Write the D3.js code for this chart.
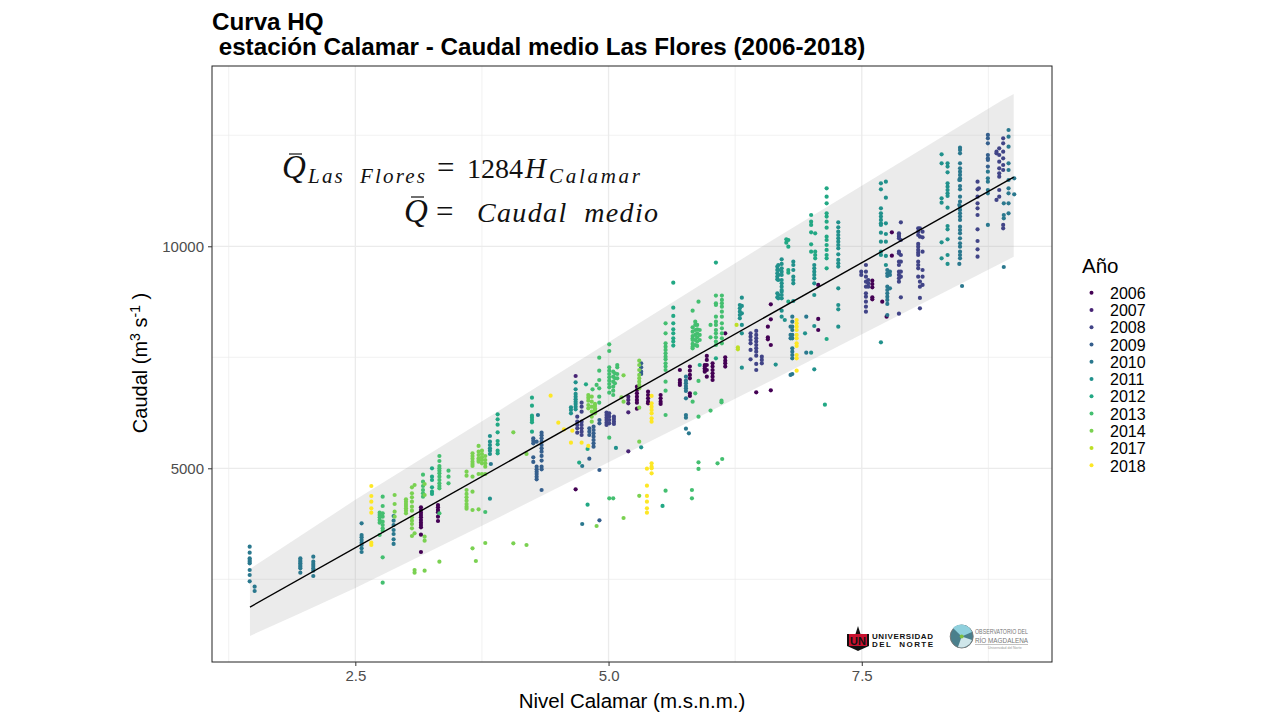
<!DOCTYPE html>
<html><head><meta charset="utf-8">
<script src="https://cdn.jsdelivr.net/npm/d3@7"></script>
<style>
html,body{margin:0;padding:0;background:#fff}
svg{display:block}
text{font-family:"Liberation Sans",Arial,sans-serif}
.math{font-family:"Liberation Serif","DejaVu Serif",serif;fill:#111}
</style></head><body>
<svg id="c" width="1280" height="720"></svg>
<script>
const years = ["2006","2007","2008","2009","2010","2011","2012","2013","2014","2017","2018"];
const xBreaksMajor = [2.5,5,7.5];
const xBreaksMinor = [1.25,3.75,6.25,8.75];
const yBreaksMajor = [5000,10000];
const yBreaksMinor = [2500,7500,12500];
const fitH = [1.46,9.0];
const fitQ = [1875,11556];
const bandUpper = [[1.46,2733],[2.5,4290],[3.93,6313],[6.46,9917],[8.89,13294],[9.0,13428]];
const bandLower = [[1.46,1225],[1.94,1720],[2.5,2305],[3.93,3911],[6.5,6854],[9.0,9766]];

const obs2006 = [
[3.148,[4121,4061,4001,3949,3896,3836,3776,3723,3671,3506,3115]],
[3.316,[4174,4121,4061,4009,3911,3813]],
[4.675,[4527]],
[5.28,[6839,6764,6689,6614,6539,6479,6344]],
[5.39,[6726,6651,6576,6501,6464]],
[5.514,[6651,6576,6501,6449]],
[5.704,[7214,6989,6929,6877]],
[5.803,[7290,7199,7102,7027,6689,6629]],
[5.95,[7327,7252,7177,7290,7214]],
[5.97,[7530,7440,7327,7214,7064]],
[6.027,[7365,7290,7214,7139,7064,6989]],
[6.152,[8040,7500,7425,7365,7290]],
[6.458,[6711]],
[6.573,[8190,7950,7905]],
[6.602,[8693,8355,7777,6757]],
[7.07,[9129,8363,8115]],
[7.604,[9226,9151,9076,8851,8806]],
[7.702,[8753]],
[7.797,[10315,9789]],
[7.745,[8415]]
];
const obs2007 = [
[4.675,[7079]],
[5.195,[6614,6539,6464,6261,5383]]
];
const obs2008 = [
[4.691,[6163,6051,5976,5901,5803]],
[4.734,[6479,6389,6276,6051,5976,5901,5826,5750]],
[4.98,[6254,6201,6141,6088,6028,5976]],
[5.007,[6239,6163,6088,6013]],
[5.053,[6163,6111,6051,5998]],
[6.402,[8040,7965,7890,7815,7665,7455]],
[6.458,[8093,8003,7928,7853,7777,7702,7627,7537,7350,7214]],
[6.513,[7515,7440,7365]],
[7.495,[9429,9354]],
[7.541,[9579,9429,9316,9204,9091,8941,8866,8753,8641,8528]],
[7.564,[9241,9166,9091]],
[7.867,[10292,10254,10217,10179,9879,9842,9654,9579,9429,9354,9279,9204,8483]],
[7.886,[10540,10142,9804,9654,9429,9316,8851]],
[8.057,[10405,10330,10254,10052,9992,9917,9857,9804,9654,9579,9504,9316]],
[8.074,[10405,10217,9204,9091,8836,8603]],
[8.1,[10330,10202,9879,9466,9316,9129]],
[8.643,[11456,11283,11118,10968,10855,10705,10382,10119,9932,9767]],
[8.656,[11306]],
[8.83,[12131,12094,11043]],
[8.857,[12206,12056,11906,11756,11643,11568,11268,11118]],
[8.896,[12432,12319,12131,11981,11831,11718,10480,10405]]
];
const obs2009 = [
[4.257,[5675,5623,5563,5248,5143]],
[4.29,[5037,4977,4925,4872,4812,4752,5600]],
[4.339,[5803,5743,5675,5600,5525,5450,5375,5278,5173,5037,4977,4512]],
[4.81,[5218,5901,5826,5750]],
[4.852,[5938,5863,5788,5713,5638,5563,5488]],
[4.91,[6088,6013,4962,3829]],
[5.322,[7365,7275,7177,7124]],
[8.745,[12507,12432,12319,12056,11981,11944,11794]]
];
const obs2010 = [
[1.457,[3235,3100,2973,2935,2898,2860,2710,2597,2455]],
[1.506,[2335,2237]],
[1.957,[2973,2935,2898,2860,2823,2785,2747,2650]],
[2.085,[3010,2898,2845,2800,2747,2695,2575]],
[2.562,[3761,3498,3446,3386,3326,3273,3198,3115]],
[2.878,[3926,3821,3723,3611,3521,3401,3296]],
[3.838,[5097]],
[4.303,[6201]],
[4.74,[5052,3746]],
[5.764,[7064,6974,6914,6854,6802,6742,6576,6201,6141,5893]],
[5.793,[5788]],
[6.814,[8415,8303,8190,8115,8003,7928,7702,7627,7552,7477,7124]],
[6.797,[8190,8003,7928,7102]],
[6.952,[8415,7605]],
[7.752,[9466,9391,9331,9091,9016,8941,8866,8791,8701,8453]],
[7.778,[9429,9354,9054]],
[8.47,[12221,12169,12094,11869,11756,11681,11606,11531,11493,11358,11283,11118,11005,10893,10818,10743,10668,10593,10442,10367,10292,10179,10067,9992,9879,9804,9729]],
[8.463,[11493,10930,9602]],
[8.49,[9106]],
[8.745,[11681,11531,11456,11268,11193,10480]],
[8.902,[10968,10705,10630,9534]],
[8.949,[12619,12469,12244,11869,11718,11493,11306,11193,10968,10743]],
[9.005,[11531,11170]]
];
const obs2011 = [
[3.829,[5728,5600,5525,5450,5397,5322,4316]],
[4.629,[6374,6314,6238]],
[4.675,[6937,6779,6674,6614,6554,6501,6449,6389,6329]],
[5.073,[5458]],
[5.322,[5473]],
[6.65,[7335]],
[6.666,[9542,9467,9392,9317,9256,8941,8851]],
[6.676,[9579,9466,9354,9241,8903,8828]],
[6.709,[9707,9602,9504,9429,9354,9241,9166,9091,9016,8978,8903,8828,8551,8415]],
[6.74,[8340]],
[6.824,[9654,9579,9466,9316,9241,9166,8768]],
[6.296,[8678,8603,8528,8453,8378]],
[6.316,[8843,8656,8491,8228,8040,7267]],
[7.031,[9579,9504,9429,9354,9279,9166,8903,8205,7229]],
[6.94,[8040]],
[7.0,[7605]],
[7.268,[10540,10427,10330,10254,10179,10104,10029,9954,9819,9692,9617,9542,9054,8678,8581,8190]],
[7.689,[11418,11283,10855,10743,10668,10593,10518,10480,10307,10104,9879,9804,7837]],
[7.738,[11456,11095,10518,10277,10104,9782,9579]],
[8.288,[12071,11869,11080,10983,10089,9729]],
[8.347,[11869,11794,11666,11418,11343,11268,11193,11133,10870,10457,10382,10157,9804,9602]]
];
const obs2012 = [
[3.905,[6216,6103,5983,5810,5615,5540,5397,5337]],
[3.257,[5000,4812,4737,4572,4474,4422]],
[4.244,[6591,6411,6186,6141,6088,6036,5826]],
[4.71,[5128]],
[4.777,[6892]],
[4.793,[5435,4182]],
[5.533,[4152]],
[5.639,[8618,8431,8265,8130,8040,7928,7853,7763,9181]],
[5.9,[7327]],
[6.06,[9632,7477]],
[6.755,[10157,10082]],
[6.775,[10142,9992,9466,9406,8753]],
[7.0,[10705,10555,10480,10315,10044,9879]],
[7.04,[10292,9879,9804,9729]],
[7.136,[6434]],
[7.153,[11306,11118,10968,10743,10668,10555,10420,10217,10142,10029,9917,9804,9729,9504,7912]]
];
const obs2013 = [
[2.74,[4001,3949,3896,3836,3776,3498]],
[2.77,[3986,3911,3799,3723,3648,3596,4362,4151,2995,2425]],
[3.168,[4857,4699,4602,4512,4437,4362]],
[3.33,[5277,5165,5052,5000,4947,4887,4812,4737,4662,4602,4549,3986]],
[3.42,[4947,4812,4662]],
[3.783,[4016]],
[4.882,[6877]],
[4.908,[6614,6479,6802,6989,7199,7492]],
[4.842,[6779]],
[5.007,[7792,7642,7275,7199,7124,7049,6974,6899,6824,6704,5690,4324]],
[5.046,[7177,7064,6952,6839,6749,6651,4324]],
[5.063,[7139,7027,6914]],
[5.086,[7327,7275,7124,7027]],
[5.563,[8265,8040,7815,7740,7665,7590,7515,7455,7365,7290,7214,6952,6749,6201,4497]],
[5.83,[8551,7740,7928,6501,8175,8078,7980,7890,7800,7702]],
[5.856,[6689,8303,8228,8115,8003,7890,7777]],
[5.875,[8228,8130,8040,7950,7853,7755]],
[5.888,[8753,6967,6163,5135,4985]],
[5.9,[8115,8003,7890]],
[5.823,[4512,4324]],
[6.007,[8228,7950,6299]],
[6.06,[8889,8716,8678,8415,8303,8228,8115,8040,7950,7853,7777]],
[6.076,[5112]],
[6.115,[6524,6486]],
[6.119,[8889,8791,8716,8641,8528,8415,8265,8153,8040,7928,7815]],
[6.122,[5210]]
];
const obs2014 = [
[2.888,[4399,4196,4024,3911]],
[3.0,[4301,4249,4196,4151,4099,4046,3986]],
[3.059,[4572,4437,4346,4249,4136,4046,3896,3821,3746,3648,3476]],
[3.085,[4624,3536,2710,2650]],
[3.184,[4647,4399,3461,3371,2695]],
[3.33,[2898]],
[3.598,[4925,4835,4512,4422,4346,4271,4196,4136,4091]],
[3.657,[5337,5277,5217,5150,5097,5052,4812,4474,4061,3198]],
[3.69,[2913]],
[3.717,[5503,5375,5300,5225,5187,5150,4872,4076]],
[3.75,[5397,5322,5247,5187,5112,4872]],
[3.783,[5277,5187,5112,5037,4872,3318]],
[4.06,[5811,3311]],
[4.19,[5323,3273]],
[4.8,[6651,6591,6524,6426,6351]],
[4.834,[6614,6501,6389,6276,6163,6051]],
[4.866,[6449,6404,6351,6314,6239]],
[5.148,[7094,6501,3881]],
[5.128,[6599]],
[4.882,[3701]],
[5.303,[7425,7327,7214,7102,7027,6952,6877,6802,6366,5600,4380]]
];
const obs2017 = [
[6.264,[8228]],
[6.277,[7725,7680]]
];
const obs2018 = [
[2.658,[4602,4376,4249,4099,4001,3326,3273]],
[4.428,[6636]],
[4.504,[6028]],
[4.56,[5878]],
[4.642,[5848]],
[4.629,[5578]],
[4.734,[5578]],
[4.80,[5503]],
[5.425,[6629,6464,6389,6314,6239,6126,6051,5112,5037,5000,4887]],
[5.379,[4992,4609,4377,4249,4099,4001]],
[6.857,[8340,8265,8190,8115,8003,7928,7815,7755,7552,7477,7199]]
];
const obsByYear = [obs2006,obs2007,obs2008,obs2009,obs2010,obs2011,obs2012,obs2013,obs2014,obs2017,obs2018];

const titleLines = ["Curva HQ"," estación Calamar - Caudal medio Las Flores (2006-2018)"];
const logoA = ["UNIVERSIDAD","DEL  NORTE"];
const logoB = ["OBSERVATORIO DEL","RÍO MAGDALENA","Universidad del Norte"];

const svg = d3.select("#c");
const P = {l:212,r:1052,t:66,b:662};
const x = d3.scaleLinear().domain([1.085,9.378]).range([P.l,P.r]);
const y = d3.scaleLinear().domain([638,14060]).range([P.b,P.t]);
const color = d3.scaleOrdinal(years, d3.quantize(d3.interpolateViridis, years.length));

const grid = svg.append("g");
const vline=(v,w)=>grid.append("line").attr("x1",x(v)).attr("x2",x(v)).attr("y1",P.t).attr("y2",P.b).attr("stroke","#ebebeb").attr("stroke-width",w);
const hline=(v,w)=>grid.append("line").attr("y1",y(v)).attr("y2",y(v)).attr("x1",P.l).attr("x2",P.r).attr("stroke","#ebebeb").attr("stroke-width",w);
xBreaksMinor.forEach(v=>vline(v,.7)); yBreaksMinor.forEach(v=>hline(v,.7));
xBreaksMajor.forEach(v=>vline(v,1.3)); yBreaksMajor.forEach(v=>hline(v,1.3));

const band = bandUpper.concat(bandLower.slice().reverse());
svg.append("path").attr("d",d3.line().x(d=>x(d[0])).y(d=>y(d[1]))(band)+"Z")
  .attr("fill","#999").attr("fill-opacity",.2);

const pts = svg.append("g");
years.forEach((yr,i)=>{
  const flat = obsByYear[i].flatMap(([h,qs])=>qs.map(q=>[h,q]));
  pts.selectAll(null).data(flat).join("circle")
    .attr("cx",d=>x(d[0])).attr("cy",d=>y(d[1])).attr("r",2.1).attr("fill",color(yr));
});

svg.append("line").attr("x1",x(fitH[0])).attr("y1",y(fitQ[0])).attr("x2",x(fitH[1])).attr("y2",y(fitQ[1]))
  .attr("stroke","#000").attr("stroke-width",1.4);

svg.append("rect").attr("x",P.l).attr("y",P.t).attr("width",P.r-P.l).attr("height",P.b-P.t)
  .attr("fill","none").attr("stroke","#222").attr("stroke-width",1);

const ax = svg.append("g").attr("transform",`translate(0,${P.b})`)
  .call(d3.axisBottom(x).tickValues(xBreaksMajor).tickFormat(d3.format(".1f")).tickSize(4).tickPadding(4));
const ay = svg.append("g").attr("transform",`translate(${P.l},0)`)
  .call(d3.axisLeft(y).tickValues(yBreaksMajor).tickFormat(d3.format("d")).tickSize(4).tickPadding(4));
[ax,ay].forEach(a=>{
  a.select(".domain").remove();
  a.selectAll("line").attr("stroke","#333");
  a.selectAll("text").attr("fill","#4d4d4d").style("font-size","15px").style("font-family",'"Liberation Sans",Arial,sans-serif');
});

svg.append("text").attr("x",212).attr("y",30).attr("font-size",24.2).attr("font-weight",700).attr("fill","#000").attr("xml:space","preserve").text(titleLines[0]);
svg.append("text").attr("x",212).attr("y",55).attr("font-size",24.2).attr("font-weight",700).attr("fill","#000").attr("xml:space","preserve").text(titleLines[1]);

svg.append("text").attr("x",632).attr("y",708).attr("text-anchor","middle").attr("font-size",20.5).attr("fill","#000").text("Nivel Calamar (m.s.n.m.)");

const yt = svg.append("text").attr("transform","translate(147,363) rotate(-90)").attr("text-anchor","middle").attr("font-size",20).attr("fill","#000");
yt.append("tspan").text("Caudal (m");
yt.append("tspan").attr("dy",-7).attr("font-size",14).text("3");
yt.append("tspan").attr("dy",7).text(" s");
yt.append("tspan").attr("dy",-7).attr("font-size",14).text("-1");
yt.append("tspan").attr("dy",7).text(" )");

// annotation
const m = svg.append("g").attr("class","math");
const mt=(xp,yp,fs,s,it,len)=>{
  const t=m.append("text").attr("class","math").attr("x",xp).attr("y",yp).attr("font-size",fs)
   .attr("font-style",it?"italic":"normal").attr("xml:space","preserve").text(s);
  if(len) t.attr("textLength",len).attr("lengthAdjust","spacing");
  return t;
};
mt(282,178,33,"Q",true);
m.append("line").attr("x1",289).attr("x2",302).attr("y1",154).attr("y2",154).attr("stroke","#111").attr("stroke-width",1.2);
mt(308,183,21,"Las  Flores",true,117);
mt(437,178,31,"=",false);
mt(467,178,28,"1284",false);
mt(525,178,29,"H",true);
mt(549,183,21,"Calamar",true,91);
mt(404,222,33,"Q",true);
m.append("line").attr("x1",411).attr("x2",424).attr("y1",197).attr("y2",197).attr("stroke","#111").attr("stroke-width",1.2);
mt(436,222,31,"=",false);
mt(477,222,28,"Caudal  medio",true,181);

// legend
svg.append("text").attr("x",1082).attr("y",273).attr("font-size",20.5).attr("fill","#000").text("Año");
const lg = svg.append("g").selectAll("g").data(years).join("g")
  .attr("transform",(d,i)=>`translate(1091.5,${292.7+i*17.26})`);
lg.append("circle").attr("r",2).attr("fill",d=>color(d));
lg.append("text").attr("x",18.5).attr("y",6.2).attr("font-size",16).attr("fill","#000").text(d=>d);

// logos
const la = svg.append("g");
la.append("path").attr("d","M858 626 L860.5 634 L869 634 L869 646 L860 650 L858 651 L856 650 L847 646 L847 634 L855.5 634 Z").attr("fill","#111");
la.append("rect").attr("x",849).attr("y",634).attr("width",18).attr("height",12).attr("fill","#c8102e");
la.append("text").attr("x",858).attr("y",644.5).attr("text-anchor","middle").attr("font-size",11).attr("font-weight",700).attr("fill","#111").text("UN");
la.append("text").attr("x",872).attr("y",638.5).attr("font-size",8).attr("font-weight",700).attr("textLength",61).attr("fill","#111").text(logoA[0]);
la.append("text").attr("x",872).attr("y",647).attr("font-size",8).attr("font-weight",700).attr("textLength",61).attr("xml:space","preserve").attr("fill","#111").text(logoA[1]);
const lb = svg.append("g");
lb.append("circle").attr("cx",961.7).attr("cy",636.5).attr("r",11.5).attr("fill","#4a7f8c").attr("stroke","#777").attr("stroke-width",1);
lb.append("path").attr("d","M961.7 636.5 L953 628 A11.5 11.5 0 0 1 972 632 Z").attr("fill","#8fd0dd");
lb.append("path").attr("d","M961.7 636.5 L972 640 A11.5 11.5 0 0 1 958 647 Z").attr("fill","#cfe6ea");
lb.append("circle").attr("cx",961.7).attr("cy",636.5).attr("r",2).attr("fill","#7fbf3f");
lb.append("text").attr("x",975).attr("y",634).attr("font-size",7).attr("textLength",53).attr("lengthAdjust","spacingAndGlyphs").attr("fill","#777").text(logoB[0]);
lb.append("text").attr("x",975).attr("y",643).attr("font-size",7.5).attr("textLength",53).attr("lengthAdjust","spacingAndGlyphs").attr("fill","#777").text(logoB[1]);
lb.append("line").attr("x1",975).attr("x2",1028).attr("y1",644.5).attr("y2",644.5).attr("stroke","#999").attr("stroke-width",.6);
lb.append("text").attr("x",988).attr("y",649).attr("font-size",3.5).attr("fill","#999").text(logoB[2]);
</script>
</body></html>
